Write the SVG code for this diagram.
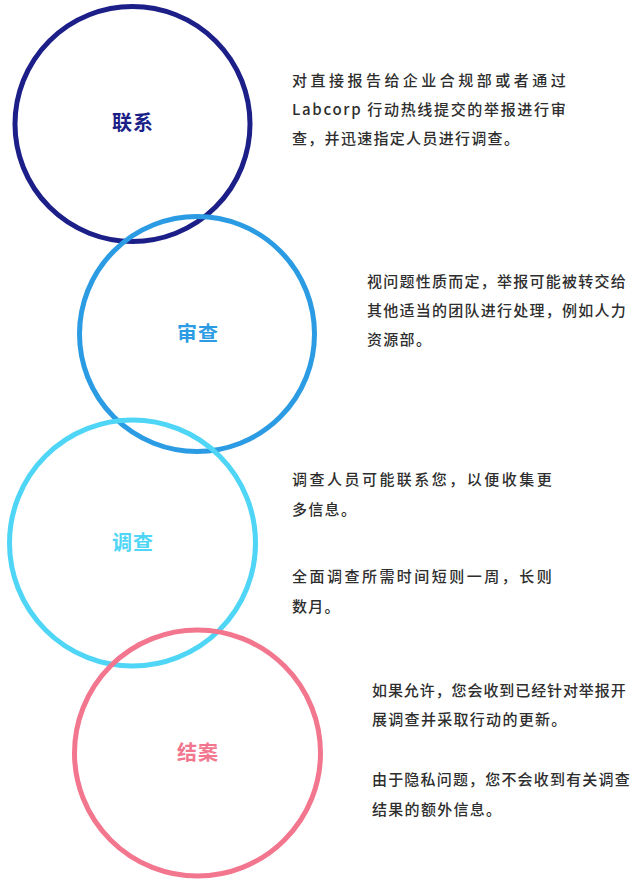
<svg xmlns="http://www.w3.org/2000/svg" width="639" height="882" viewBox="0 0 639 882">
<style>
.ring{fill:none;stroke-width:5}
.lbl{font-family:"Noto Sans CJK SC","Noto Sans",sans-serif;font-size:20px;font-weight:bold;text-anchor:middle;letter-spacing:1px}
.body{font-family:"Noto Sans CJK SC","Noto Sans",sans-serif;font-size:15px;font-weight:500;fill:#2e2e2e;letter-spacing:1.3px}
</style>
<rect width="639" height="882" fill="#ffffff"/>
<g id="node-lianxi">
<circle class="ring" cx="132.5" cy="124" r="117.5" stroke="#1c1f88"/>
<text class="lbl" x="133" y="130" fill="#1c1f88">联系</text>
</g>
<g id="node-shencha">
<circle class="ring" cx="197" cy="334" r="117.5" stroke="#2b9be3"/>
<text class="lbl" x="198" y="341" fill="#2b9be3">审查</text>
</g>
<g id="node-diaocha">
<circle class="ring" cx="132.5" cy="543" r="123" stroke="#4fd5f5"/>
<text class="lbl" x="133" y="550" fill="#4fd5f5">调查</text>
</g>
<g id="node-jiean">
<circle class="ring" cx="197.5" cy="753" r="123" stroke="#f3768f"/>
<text class="lbl" x="198" y="760" fill="#f3768f">结案</text>
</g>
<g id="connectors"></g>
<g id="text-lianxi">
<text class="body" x="292" y="86" textLength="275" lengthAdjust="spacing">对直接报告给企业合规部或者通过</text>
<text class="body" x="292" y="115" textLength="275" lengthAdjust="spacing">Labcorp 行动热线提交的举报进行审</text>
<text class="body" x="292" y="144">查，并迅速指定人员进行调查。</text>
</g>
<g id="text-shencha">
<text class="body" x="367" y="287" textLength="260" lengthAdjust="spacing">视问题性质而定，举报可能被转交给</text>
<text class="body" x="367" y="316" textLength="260" lengthAdjust="spacing">其他适当的团队进行处理，例如人力</text>
<text class="body" x="367" y="345">资源部。</text>
</g>
<g id="text-diaocha">
<text class="body" x="292" y="485" textLength="261" lengthAdjust="spacing">调查人员可能联系您，以便收集更</text>
<text class="body" x="292" y="515">多信息。</text>
<text class="body" x="292" y="582" textLength="261" lengthAdjust="spacing">全面调查所需时间短则一周，长则</text>
<text class="body" x="292" y="612">数月。</text>
</g>
<g id="text-jiean">
<text class="body" x="372" y="696" textLength="255" lengthAdjust="spacing">如果允许，您会收到已经针对举报开</text>
<text class="body" x="372" y="725">展调查并采取行动的更新。</text>
<text class="body" x="372" y="785" textLength="259" lengthAdjust="spacing">由于隐私问题，您不会收到有关调查</text>
<text class="body" x="372" y="815">结果的额外信息。</text>
</g>
</svg>
